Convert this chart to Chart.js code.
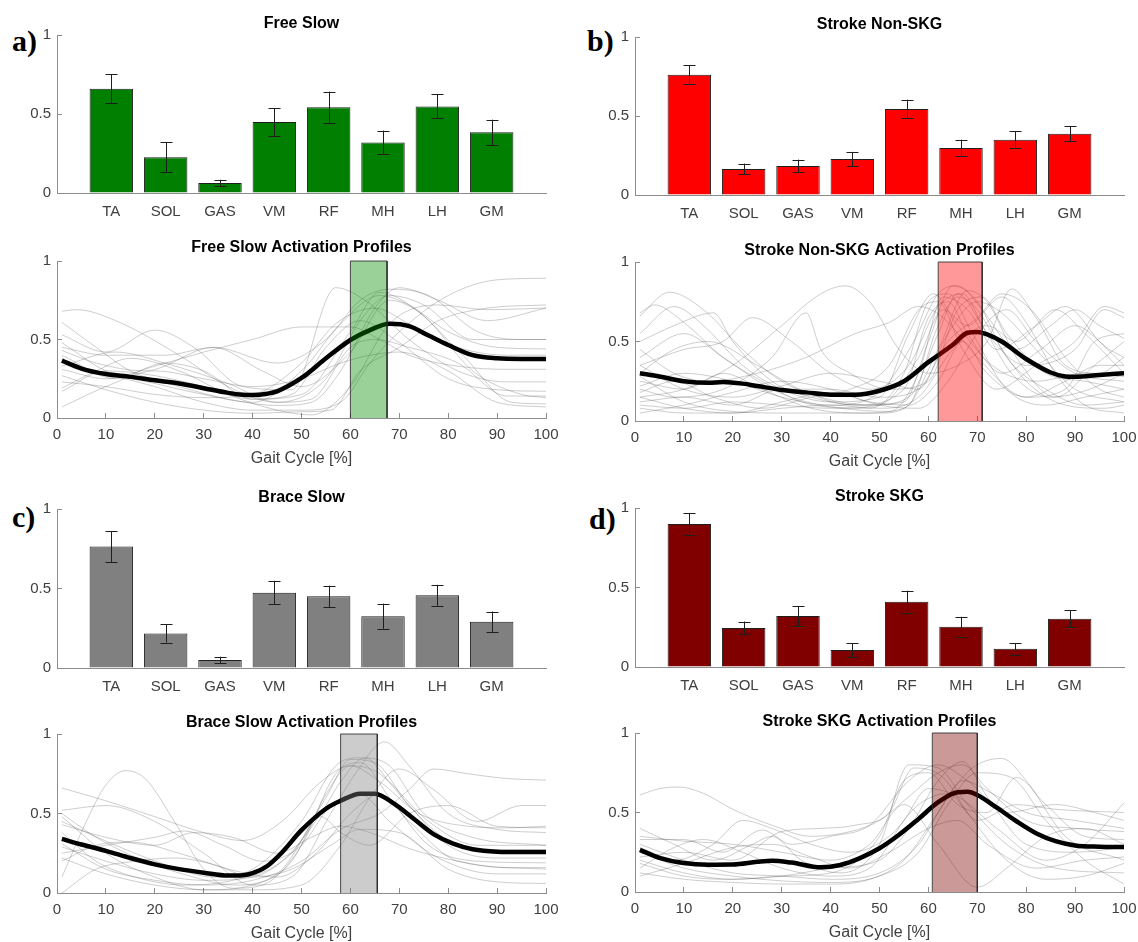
<!DOCTYPE html>
<html><head><meta charset="utf-8">
<script src="https://cdn.jsdelivr.net/npm/chart.js@4.4.1/dist/chart.umd.min.js"></script>
<style>
html,body{margin:0;padding:0;background:#fff;}
body{width:1138px;height:942px;position:relative;overflow:hidden;}
.pl{position:absolute;font:bold 30px "Liberation Serif","Times New Roman",serif;line-height:30px;color:#000;}
canvas{position:absolute;}
</style></head><body>
<div class="pl" style="left:12px;top:26px">a)</div>
<div class="pl" style="left:587px;top:26px">b)</div>
<div class="pl" style="left:12px;top:502px">c)</div>
<div class="pl" style="left:589px;top:504px">d)</div>
<script>
// ---------------- DATA ----------------
const muscles = ['TA','SOL','GAS','VM','RF','MH','LH','GM'];

const freeSlowMean = [0.660,0.227,0.063,0.450,0.542,0.320,0.548,0.384];
const freeSlowErr  = [0.093,0.095,0.021,0.087,0.100,0.075,0.076,0.080];
const strokeNonSkgMean = [0.761,0.165,0.184,0.228,0.545,0.298,0.349,0.387];
const strokeNonSkgErr  = [0.060,0.034,0.040,0.045,0.058,0.052,0.053,0.047];
const braceSlowMean = [0.764,0.217,0.050,0.474,0.451,0.326,0.457,0.291];
const braceSlowErr  = [0.097,0.057,0.021,0.074,0.067,0.079,0.066,0.064];
const strokeSkgMean = [0.899,0.246,0.320,0.107,0.410,0.253,0.114,0.303];
const strokeSkgErr  = [0.070,0.040,0.063,0.043,0.070,0.063,0.036,0.053];

const yTicks = [0, 0.5, 1];
const gaitTicks = [0,10,20,30,40,50,60,70,80,90,100];

// shaded window [start, end] in % gait cycle
const freeSlowShade = [60, 67.5];
const strokeNonSkgShade = [62, 71];
const braceSlowShade = [58, 65.5];
const strokeSkgShade = [60.8, 70];

// mean activation profiles [gait %, activation]
const freeSlowAvg = [[1,.365],[5,.315],[10,.28],[15,.262],[20,.24],[25,.22],[30,.19],[35,.16],[38,.148],[40,.146],[43,.155],[45,.17],[50,.255],[55,.38],[60,.497],[64,.56],[68,.6],[72,.585],[76,.525],[80,.465],[85,.40],[90,.38],[95,.376],[100,.376]];
const strokeNonSkgAvg = [[1,.30],[5,.28],[10,.25],[15,.24],[18,.245],[22,.235],[25,.22],[30,.195],[35,.18],[40,.165],[45,.165],[50,.19],[55,.25],[60,.37],[65,.48],[68,.555],[70,.56],[72,.545],[75,.5],[80,.39],[85,.305],[88,.28],[90,.278],[95,.29],[100,.30]];
const braceSlowAvg = [[1,.34],[5,.305],[10,.265],[15,.22],[20,.18],[25,.15],[30,.128],[35,.11],[38,.112],[40,.125],[43,.17],[46,.255],[50,.395],[55,.53],[58,.58],[62,.625],[65,.625],[69,.56],[73,.465],[77,.37],[81,.31],[85,.275],[90,.26],[95,.258],[100,.258]];
const strokeSkgAvg = [[1,.265],[5,.215],[10,.182],[15,.172],[20,.173],[25,.19],[28,.197],[32,.185],[38,.155],[42,.17],[46,.213],[50,.275],[54,.36],[58,.46],[62,.565],[66,.628],[68,.63],[70,.61],[74,.53],[78,.445],[82,.37],[86,.32],[90,.293],[95,.285],[100,.283]];

// individual profiles (read approximately)
const freeSlowProfiles = [
 [[1,.68],[4,.69],[12,.62],[25,.4],[35,.2],[45,.1],[55,.25],[62,.62],[68,.78],[75,.72],[85,.5],[95,.5],[100,.5]],
 [[1,.61],[8,.45],[15,.3],[25,.2],[35,.12],[45,.08],[52,.1],[58,.3],[65,.7],[70,.83],[78,.75],[88,.62],[100,.7]],
 [[1,.53],[10,.42],[20,.56],[28,.45],[38,.2],[48,.18],[57,.83],[63,.75],[72,.5],[82,.3],[92,.23],[100,.23]],
 [[1,.48],[10,.3],[20,.22],[30,.15],[40,.1],[50,.3],[58,.6],[66,.78],[72,.72],[80,.55],[90,.45],[100,.44]],
 [[1,.43],[8,.35],[18,.3],[32,.45],[42,.3],[50,.2],[60,.42],[68,.75],[75,.65],[85,.3],[95,.15],[100,.13]],
 [[1,.40],[12,.25],[22,.35],[30,.3],[40,.12],[50,.15],[60,.55],[66,.8],[73,.7],[83,.4],[93,.1],[100,.09]],
 [[1,.36],[10,.28],[20,.2],[30,.1],[40,.05],[50,.05],[58,.1],[64,.35],[70,.55],[80,.78],[90,.88],[100,.89]],
 [[1,.31],[10,.25],[20,.33],[30,.42],[40,.5],[50,.58],[60,.58],[66,.5],[72,.4],[82,.33],[92,.31],[100,.31]],
 [[1,.27],[10,.18],[20,.1],[30,.05],[40,.03],[50,.04],[56,.05],[62,.3],[70,.45],[78,.62],[88,.7],[100,.72]],
 [[1,.23],[10,.2],[20,.15],[30,.13],[40,.15],[50,.35],[57,.6],[65,.7],[72,.6],[82,.45],[92,.4],[100,.4]],
 [[1,.19],[8,.3],[15,.38],[25,.3],[35,.15],[45,.05],[52,.02],[60,.2],[68,.6],[78,.72],[88,.69],[100,.7]],
 [[1,.17],[10,.3],[20,.27],[30,.2],[40,.12],[48,.15],[55,.45],[62,.62],[70,.48],[80,.25],[90,.18],[100,.17]],
 [[1,.07],[10,.2],[20,.3],[30,.25],[40,.2],[50,.25],[58,.35],[64,.4],[70,.42],[80,.3],[90,.1],[100,.07]],
 [[1,.45],[10,.4],[22,.4],[32,.45],[45,.35],[55,.5],[62,.75],[68,.82],[76,.78],[86,.55],[95,.5],[100,.5]],
 [[1,.33],[12,.42],[22,.35],[35,.22],[45,.1],[52,.12],[60,.45],[65,.5],[72,.45],[82,.35],[92,.14],[100,.14]]
];
const strokeNonSkgProfiles = [
 [[1,.66],[7,.81],[14,.7],[22,.45],[30,.25],[38,.15],[48,.1],[56,.15],[62,.55],[66,.8],[71,.6],[77,.3],[85,.15],[93,.2],[100,.3]],
 [[1,.68],[4,.73],[10,.62],[18,.4],[26,.25],[34,.12],[42,.08],[52,.06],[58,.3],[63,.78],[68,.7],[74,.45],[82,.6],[88,.72],[95,.5],[100,.35]],
 [[1,.5],[8,.6],[16,.68],[20,.5],[28,.25],[36,.15],[46,.1],[55,.12],[60,.5],[65,.85],[70,.75],[76,.4],[84,.2],[92,.1],[100,.12]],
 [[1,.35],[10,.45],[18,.5],[24,.65],[32,.5],[40,.3],[48,.2],[56,.35],[62,.72],[67,.8],[72,.55],[80,.35],[90,.45],[96,.7],[100,.65]],
 [[1,.2],[8,.15],[18,.2],[28,.4],[35,.68],[38,.45],[44,.3],[52,.2],[60,.25],[66,.7],[71,.78],[76,.55],[84,.3],[92,.25],[100,.2]],
 [[1,.15],[10,.2],[20,.35],[30,.6],[38,.8],[43,.85],[48,.75],[54,.45],[60,.3],[66,.35],[72,.5],[77,.83],[82,.65],[88,.35],[95,.3],[100,.4]],
 [[1,.28],[10,.12],[20,.06],[30,.05],[40,.05],[50,.05],[56,.1],[62,.6],[66,.78],[70,.7],[74,.5],[80,.25],[88,.1],[96,.08],[100,.1]],
 [[1,.1],[10,.08],[20,.12],[30,.1],[40,.08],[50,.1],[58,.4],[63,.7],[68,.6],[75,.78],[80,.62],[86,.3],[92,.1],[100,.05]],
 [[1,.45],[8,.3],[15,.25],[25,.3],[35,.4],[45,.55],[52,.62],[58,.72],[63,.65],[70,.4],[80,.15],[88,.2],[94,.5],[100,.55]],
 [[1,.22],[10,.3],[20,.25],[30,.15],[40,.1],[50,.18],[57,.5],[62,.8],[66,.85],[71,.7],[78,.45],[85,.6],[90,.7],[95,.6],[100,.52]],
 [[1,.12],[10,.15],[20,.1],[30,.2],[40,.2],[50,.15],[58,.2],[64,.5],[70,.65],[75,.8],[81,.7],[88,.4],[95,.2],[100,.15]],
 [[1,.3],[8,.45],[15,.5],[25,.35],[35,.18],[45,.1],[55,.2],[60,.65],[64,.75],[68,.55],[75,.3],[83,.45],[90,.6],[97,.45],[100,.4]],
 [[1,.08],[10,.05],[20,.05],[30,.08],[40,.1],[50,.08],[58,.15],[65,.45],[72,.6],[78,.5],[86,.7],[92,.55],[100,.3]],
 [[1,.4],[10,.55],[18,.4],[28,.2],[38,.1],[48,.08],[55,.3],[60,.75],[64,.8],[69,.55],[76,.2],[84,.1],[92,.15],[100,.2]],
 [[1,.18],[8,.25],[16,.15],[26,.08],[36,.15],[44,.2],[52,.35],[58,.7],[62,.75],[67,.45],[74,.2],[82,.35],[90,.5],[96,.72],[100,.68]],
 [[1,.05],[10,.1],[20,.18],[30,.25],[40,.2],[50,.1],[58,.08],[64,.25],[70,.55],[76,.7],[82,.5],[90,.3],[100,.25]],
 [[1,.25],[10,.2],[18,.3],[26,.2],[36,.08],[46,.05],[55,.08],[62,.45],[68,.82],[72,.75],[78,.4],[86,.15],[94,.35],[100,.5]],
 [[1,.55],[8,.72],[14,.6],[22,.35],[30,.2],[40,.12],[50,.15],[56,.55],[61,.8],[66,.6],[73,.35],[82,.25],[92,.3],[100,.28]],
 [[1,.35],[10,.2],[20,.15],[30,.22],[40,.3],[50,.25],[58,.2],[64,.55],[70,.75],[75,.68],[82,.45],[90,.2],[100,.12]],
 [[1,.15],[10,.08],[20,.05],[30,.12],[40,.18],[48,.12],[56,.1],[62,.25],[67,.5],[72,.3],[80,.15],[88,.25],[95,.35],[100,.35]]
];
const braceSlowProfiles = [
 [[1,.1],[6,.45],[10,.68],[14,.77],[18,.72],[24,.45],[30,.15],[36,.03],[42,.05],[50,.3],[57,.75],[62,.82],[68,.6],[76,.3],[86,.2],[100,.19]],
 [[1,.66],[10,.58],[20,.48],[30,.38],[38,.33],[46,.45],[54,.7],[60,.8],[66,.7],[74,.5],[84,.42],[92,.41],[100,.42]],
 [[1,.52],[10,.55],[20,.45],[30,.25],[40,.05],[48,.1],[56,.5],[61,.75],[67,.95],[72,.8],[80,.5],[90,.4],[100,.38]],
 [[1,.5],[8,.35],[18,.2],[28,.1],[36,.05],[45,.12],[55,.6],[60,.84],[65,.82],[72,.55],[82,.3],[92,.27],[100,.27]],
 [[1,.48],[10,.25],[20,.1],[30,.02],[40,.02],[50,.05],[58,.3],[64,.6],[70,.78],[77,.65],[86,.45],[95,.55],[100,.55]],
 [[1,.43],[10,.35],[20,.3],[28,.38],[36,.35],[45,.25],[52,.35],[58,.42],[64,.38],[72,.28],[82,.2],[92,.16],[100,.16]],
 [[1,.38],[8,.2],[16,.1],[26,.05],[36,.08],[46,.2],[54,.5],[58,.7],[63,.85],[68,.7],[76,.45],[86,.3],[100,.3]],
 [[1,.31],[10,.15],[20,.08],[30,.05],[40,.08],[50,.2],[58,.4],[66,.5],[72,.65],[77,.78],[84,.75],[92,.72],[100,.71]],
 [[1,.25],[10,.3],[20,.35],[26,.39],[34,.3],[42,.2],[50,.3],[56,.55],[62,.62],[68,.45],[78,.22],[90,.12],[100,.12]],
 [[1,.22],[10,.12],[20,.05],[30,.02],[40,.05],[48,.2],[55,.62],[60,.8],[66,.75],[72,.55],[80,.3],[90,.22],[100,.22]],
 [[1,.0],[8,.15],[16,.2],[24,.22],[32,.18],[40,.1],[48,.15],[56,.3],[62,.4],[70,.38],[80,.15],[90,.07],[100,.06]],
 [[1,.29],[10,.2],[20,.12],[30,.08],[40,.1],[48,.25],[54,.48],[58,.38],[64,.3],[72,.5],[80,.55],[90,.42],[100,.41]],
 [[1,.45],[12,.3],[22,.18],[32,.1],[40,.15],[50,.45],[57,.8],[62,.85],[68,.8],[75,.5],[85,.35],[100,.3]],
 [[1,.2],[8,.3],[15,.32],[25,.25],[35,.15],[45,.1],[53,.25],[60,.5],[66,.62],[72,.45],[82,.2],[100,.15]]
];
const strokeSkgProfiles = [
 [[1,.61],[5,.65],[9,.66],[14,.62],[20,.52],[28,.42],[36,.35],[44,.38],[50,.45],[56,.6],[62,.75],[67,.8],[72,.65],[80,.45],[90,.4],[100,.38]],
 [[1,.4],[8,.3],[16,.2],[24,.3],[28,.35],[34,.2],[42,.12],[50,.3],[56,.8],[62,.78],[68,.55],[76,.3],[86,.15],[100,.12]],
 [[1,.35],[10,.32],[20,.3],[30,.25],[40,.2],[48,.3],[55,.55],[62,.3],[70,.03],[76,.15],[84,.35],[92,.4],[100,.3]],
 [[1,.33],[10,.33],[18,.25],[26,.39],[32,.3],[40,.35],[48,.42],[56,.7],[62,.8],[68,.7],[76,.5],[86,.55],[94,.5],[100,.45]],
 [[1,.3],[10,.2],[20,.12],[30,.1],[40,.08],[50,.12],[58,.3],[64,.6],[69,.78],[75,.84],[80,.7],[88,.35],[100,.2]],
 [[1,.25],[10,.15],[20,.1],[30,.07],[40,.06],[50,.1],[58,.25],[64,.55],[70,.75],[77,.72],[84,.45],[92,.2],[100,.05]],
 [[1,.2],[10,.12],[20,.08],[30,.1],[40,.15],[50,.2],[56,.4],[62,.7],[67,.82],[72,.6],[80,.3],[90,.25],[100,.28]],
 [[1,.15],[8,.28],[14,.33],[22,.25],[30,.15],[40,.1],[48,.15],[55,.45],[60,.65],[66,.6],[74,.4],[84,.2],[92,.3],[100,.56]],
 [[1,.12],[10,.08],[20,.06],[30,.05],[40,.05],[48,.08],[55,.2],[62,.5],[67,.7],[73,.62],[80,.5],[90,.45],[100,.4]],
 [[1,.28],[8,.2],[16,.3],[22,.45],[28,.4],[36,.3],[44,.25],[52,.35],[58,.55],[64,.62],[70,.45],[78,.55],[86,.52],[100,.5]],
 [[1,.22],[10,.25],[20,.2],[30,.38],[38,.4],[45,.42],[52,.5],[57,.78],[63,.72],[68,.5],[76,.2],[84,.08],[92,.1],[100,.18]],
 [[1,.18],[10,.1],[20,.08],[30,.1],[40,.12],[50,.35],[55,.7],[60,.75],[66,.55],[72,.5],[78,.72],[84,.55],[92,.35],[100,.33]],
 [[1,.1],[10,.18],[20,.28],[28,.3],[36,.22],[44,.15],[52,.25],[60,.4],[66,.45],[72,.3],[82,.15],[92,.2],[100,.22]]
];

// ---------------- RENDERING ----------------
const SANS = '"Liberation Sans", Arial, Helvetica, sans-serif';
const TITLE_FONT = {family: SANS, size: 16, weight: 'bold', lineHeight: 1.2};
const TICK_FONT = {family: SANS, size: 15, lineHeight: 1.2};
const LABEL_FONT = {family: SANS, size: 16, lineHeight: 1.2};
const AXIS_COLOR = '#8c8c8c';
const TEXT_COLOR = '#404040';
const YW = 45, PADR = 30;

function makeCanvas(area, xAxisH) {
  const top = Math.round(area.titleY - 9.6);
  const left = area.l - YW;
  const w = YW + (area.r - area.l) + PADR;
  const h = (area.b - top) + xAxisH;
  const c = document.createElement('canvas');
  c.width = w; c.height = h;
  c.style.left = left + 'px'; c.style.top = top + 'px';
  c.style.width = w + 'px'; c.style.height = h + 'px';
  document.body.appendChild(c);
  return {c, padB: area.t - top - 19.2};
}

function yScale() {
  return {
    min: 0, max: 1,
    afterBuildTicks: s => { s.ticks = yTicks.map(v => ({value: v})); },
    ticks: {callback: v => String(v), font: TICK_FONT, color: TEXT_COLOR, padding: 11},
    grid: {drawOnChartArea: false, drawTicks: true, tickLength: -5, tickColor: AXIS_COLOR},
    border: {display: true, color: AXIS_COLOR, width: 1},
    afterFit: s => { s.width = YW; }
  };
}

function baseOptions(title, padB) {
  return {
    responsive: false, animation: false, devicePixelRatio: 1, events: [],
    layout: {padding: {left: 0, right: PADR, top: 0, bottom: 0}},
    plugins: {
      legend: {display: false}, tooltip: {enabled: false},
      title: {display: true, text: title, font: TITLE_FONT, color: '#000', fullSize: false, padding: {top: 0, bottom: padB}}
    }
  };
}

const errorBars = {
  id: 'errorBars',
  afterDatasetsDraw(chart) {
    const ds = chart.data.datasets[0];
    const meta = chart.getDatasetMeta(0);
    const ys = chart.scales.y;
    const ctx = chart.ctx;
    ctx.save();
    ctx.strokeStyle = '#1e1e1e';
    ctx.lineWidth = 1;
    meta.data.forEach((bar, i) => {
      const v = ds.data[i], e = ds.errors[i];
      if (v == null) return;
      const x = Math.round(bar.x) + 0.5;
      const y1 = ys.getPixelForValue(v - e), y2 = ys.getPixelForValue(v + e);
      ctx.beginPath();
      ctx.moveTo(x, y1); ctx.lineTo(x, y2);
      ctx.moveTo(x - 6, Math.round(y1) + 0.5); ctx.lineTo(x + 6, Math.round(y1) + 0.5);
      ctx.moveTo(x - 6, Math.round(y2) + 0.5); ctx.lineTo(x + 6, Math.round(y2) + 0.5);
      ctx.stroke();
    });
    ctx.restore();
  }
};

function barChart(area, title, means, errs, color) {
  const {c, padB} = makeCanvas(area, 30);
  const opts = baseOptions(title, padB);
  opts.scales = {
    x: {
      type: 'category', offset: false,
      ticks: {font: TICK_FONT, color: TEXT_COLOR, padding: 10, autoSkip: false, maxRotation: 0},
      grid: {drawOnChartArea: false, drawTicks: false, offset: false},
      border: {display: true, color: AXIS_COLOR, width: 1},
      afterFit: s => { s.height = 30; }
    },
    y: yScale()
  };
  new Chart(c, {
    type: 'bar',
    data: {
      labels: ['', ...muscles, ''],
      datasets: [{
        data: [null, ...means, null],
        errors: [null, ...errs, null],
        backgroundColor: color, borderColor: '#1e1e1e', borderWidth: 1,
        categoryPercentage: 1, barPercentage: 0.8
      }]
    },
    options: opts,
    plugins: [errorBars]
  });
}

const toXY = arr => arr.map(p => ({x: p[0], y: p[1]}));

function lineChart(area, title, avg, profiles, shade, shadeColor) {
  const {c, padB} = makeCanvas(area, 50);
  const opts = baseOptions(title, padB);
  opts.scales = {
    x: {
      type: 'linear', min: 0, max: 100,
      afterBuildTicks: s => { s.ticks = gaitTicks.map(v => ({value: v})); },
      ticks: {font: TICK_FONT, color: TEXT_COLOR, padding: 13, maxRotation: 0},
      grid: {drawOnChartArea: false, drawTicks: true, tickLength: -5, tickColor: AXIS_COLOR},
      border: {display: true, color: AXIS_COLOR, width: 1},
      title: {display: true, text: 'Gait Cycle [%]', font: LABEL_FONT, color: TEXT_COLOR, padding: {top: 0, bottom: 0}},
      afterFit: s => { s.height = 50; }
    },
    y: yScale()
  };
  const datasets = [];
  datasets.push({
    data: [{x: shade[0], y: 0}, {x: shade[0], y: 1}, {x: shade[1], y: 1}, {x: shade[1], y: 0}],
    backgroundColor: shadeColor, borderColor: 'rgba(40,40,40,0.85)', borderWidth: 1,
    fill: 'origin', pointRadius: 0, tension: 0, clip: 2
  });
  datasets.push({
    data: toXY(avg), borderColor: '#000', borderWidth: 4.5, pointRadius: 0,
    cubicInterpolationMode: 'monotone', fill: false
  });
  profiles.forEach(p => datasets.push({
    data: toXY(p), borderColor: 'rgba(60,60,60,0.25)', borderWidth: 1, pointRadius: 0,
    cubicInterpolationMode: 'monotone', fill: false
  }));
  new Chart(c, {type: 'line', data: {datasets}, options: opts});
}

barChart({l: 57, r: 546, t: 35, b: 193, titleY: 24}, 'Free Slow', freeSlowMean, freeSlowErr, '#007f00');
lineChart({l: 57, r: 546, t: 261, b: 418, titleY: 248}, 'Free Slow Activation Profiles', freeSlowAvg, freeSlowProfiles, freeSlowShade, 'rgba(0,140,0,0.4)');
barChart({l: 635, r: 1124, t: 37, b: 195, titleY: 25}, 'Stroke Non-SKG', strokeNonSkgMean, strokeNonSkgErr, '#ff0000');
lineChart({l: 635, r: 1124, t: 262, b: 421, titleY: 251}, 'Stroke Non-SKG Activation Profiles', strokeNonSkgAvg, strokeNonSkgProfiles, strokeNonSkgShade, 'rgba(255,0,0,0.4)');
barChart({l: 57, r: 546, t: 509, b: 668, titleY: 498}, 'Brace Slow', braceSlowMean, braceSlowErr, '#808080');
lineChart({l: 57, r: 546, t: 734, b: 893, titleY: 723}, 'Brace Slow Activation Profiles', braceSlowAvg, braceSlowProfiles, braceSlowShade, 'rgba(128,128,128,0.4)');
barChart({l: 635, r: 1124, t: 508, b: 667, titleY: 497}, 'Stroke SKG', strokeSkgMean, strokeSkgErr, '#800000');
lineChart({l: 635, r: 1124, t: 733, b: 892, titleY: 722}, 'Stroke SKG Activation Profiles', strokeSkgAvg, strokeSkgProfiles, strokeSkgShade, 'rgba(128,0,0,0.4)');
</script>
</body></html>
